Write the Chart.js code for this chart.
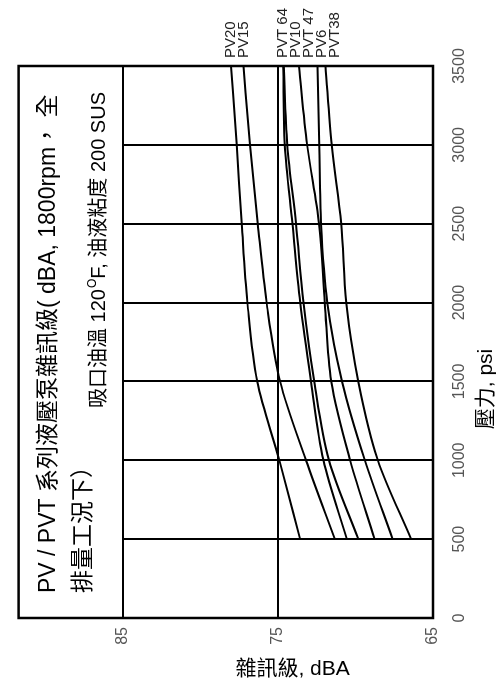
<!DOCTYPE html>
<html>
<head>
<meta charset="utf-8">
<script src="https://cdn.jsdelivr.net/npm/chart.js@4.4.1/dist/chart.umd.min.js"></script>
<style>
html,body{margin:0;padding:0;background:#fff;}
body{width:497px;height:688px;overflow:hidden;position:relative;}
#wrap{position:absolute;left:0;top:0;width:688px;height:497px;transform-origin:0 0;transform:translate(0,688px) rotate(-90deg);}
canvas{display:block;}
</style>
</head>
<body>
<div id="wrap"><canvas id="c" width="688" height="497"></canvas></div>
<script>
// ---- data ----
const PRESSURE = [500, 1000, 1500, 2000, 2500, 3000, 3500];            // psi
const SERIES_NAMES = ['PV20', 'PV15', 'PVT 64', 'PV10', 'PVT 47', 'PV6', 'PVT38'];
const PV20   = [73.56, 74.90, 76.33, 76.96, 77.33, 77.65, 78.01];
const PV15   = [71.32, 73.18, 74.85, 75.72, 76.29, 76.79, 77.21];
const PVT64  = [70.55, 72.06, 72.86, 73.56, 74.06, 74.55, 74.65];
const PV10   = [69.81, 71.70, 72.65, 73.34, 73.83, 74.39, 74.62];
const PVT47  = [68.76, 70.34, 71.56, 71.97, 72.35, 73.11, 73.64];
const PV6    = [67.60, 69.39, 70.86, 71.81, 72.22, 72.33, 72.44];
const PVT38  = [66.41, 68.55, 69.81, 70.59, 70.91, 71.53, 71.92];
const SERIES_VALUES = [PV20, PV15, PVT64, PV10, PVT47, PV6, PVT38];
const PRESSURE_TICKS = [0, 500, 1000, 1500, 2000, 2500, 3000, 3500];
const DBA_TICKS = [65, 75, 85];
const DBA_MIN = 65, DBA_MAX = 91.7;
const X_TITLE = '壓力, psi';
const Y_TITLE = '雜訊級, dBA';
const TITLE_1 = 'PV / PVT 系列液壓泵雜訊級( dBA, 1800rpm， 全';
const TITLE_2 = '排量工況下）';
const NOTE_A = '吸口油溫 120';
const NOTE_SUP = 'O';
const NOTE_B = 'F, 油液粘度 200 SUS';

const FAM = '"Liberation Sans", "Noto Sans CJK TC", Arial, sans-serif';

const datasets = SERIES_VALUES.map((vals, i) => ({
  label: SERIES_NAMES[i],
  data: PRESSURE.map((p, j) => ({x: p, y: vals[j]})),
  borderColor: '#000',
  borderWidth: 2,
  pointRadius: 0,
  fill: false,
  cubicInterpolationMode: 'monotone'
}));

const decor = {
  id: 'decor',
  beforeDatasetsDraw(chart) {
    const {ctx, chartArea: a, scales: {x, y}} = chart;
    ctx.save();
    ctx.strokeStyle = '#000';
    ctx.lineWidth = 2;
    const yTop = y.getPixelForValue(85);
    PRESSURE_TICKS.forEach(p => {
      if (p === 0 || p === 3500) return;
      const px = Math.round(x.getPixelForValue(p));
      ctx.beginPath(); ctx.moveTo(px, yTop); ctx.lineTo(px, a.bottom); ctx.stroke();
    });
    ctx.lineWidth = 2.5;
    ctx.strokeRect(a.left, a.top, a.right - a.left, a.bottom - a.top);
    ctx.restore();
  },
  afterDatasetsDraw(chart) {
    const {ctx, chartArea: a, scales: {x, y}} = chart;
    ctx.save();
    // series labels beyond the right end
    ctx.font = '15px ' + FAM;
    ctx.textAlign = 'left';
    ctx.textBaseline = 'middle';
    const ends = SERIES_VALUES.map((v, i) => ({i, py: y.getPixelForValue(v[v.length - 1])}));
    ends.sort((p, q) => p.py - q.py);
    let prev = -1e9;
    ends.forEach(e => {
      const py = Math.max(e.py, prev + 13);
      prev = py;
      ctx.fillStyle = '#222';
      ctx.fillText(SERIES_NAMES[e.i], a.right + 8, py);
    });
    // title box text
    ctx.fillStyle = '#000';
    ctx.font = '23px ' + FAM;
    ctx.fillText(TITLE_1, a.left + 25, a.top + 30);
    ctx.fillText(TITLE_2, a.left + 25, a.top + 65);
    ctx.font = '20px ' + FAM;
    let nx = a.left + 210;
    const ny = a.top + 81;
    ctx.fillText(NOTE_A, nx, ny);
    nx += ctx.measureText(NOTE_A).width;
    ctx.font = '12px ' + FAM;
    ctx.fillText(NOTE_SUP, nx + 1, ny - 7);
    nx += ctx.measureText(NOTE_SUP).width + 1;
    ctx.font = '20px ' + FAM;
    ctx.fillText(NOTE_B, nx, ny);
    // axis titles
    ctx.font = '21px ' + FAM;
    ctx.textAlign = 'center';
    ctx.fillText(X_TITLE, a.left + 229, a.bottom + 53);
    ctx.save();
    ctx.translate(19, a.top + 274);
    ctx.rotate(Math.PI / 2);
    ctx.fillText(Y_TITLE, 0, 0);
    ctx.restore();
    ctx.restore();
  }
};

new Chart(document.getElementById('c'), {
  type: 'line',
  data: {datasets},
  plugins: [decor],
  options: {
    responsive: false,
    animation: false,
    devicePixelRatio: 1,
    layout: {padding: {top: 10, right: 66, left: 0, bottom: 0}},
    plugins: {legend: {display: false}, tooltip: {enabled: false}, title: {display: false}},
    scales: {
      x: {
        type: 'linear', min: 0, max: 3500,
        afterBuildTicks(s) { s.ticks = PRESSURE_TICKS.map(v => ({value: v})); },
        ticks: {padding: 17, color: '#555', font: {size: 16, family: FAM}, maxRotation: 0, autoSkip: false,
                callback: v => String(v)},
        grid: {display: false, drawTicks: false},
        border: {display: false},
        afterFit(s) { s.height = 64; }
      },
      y: {
        type: 'linear', min: DBA_MIN, max: DBA_MAX,
        afterBuildTicks(s) { s.ticks = DBA_TICKS.map(v => ({value: v})); },
        ticks: {padding: 9, color: '#555', font: {size: 16, family: FAM}, autoSkip: false,
                callback: v => String(v)},
        grid: {color: '#000', lineWidth: 2, drawTicks: false},
        border: {display: false},
        afterFit(s) { s.width = 70; }
      }
    }
  }
});
</script>
</body>
</html>
